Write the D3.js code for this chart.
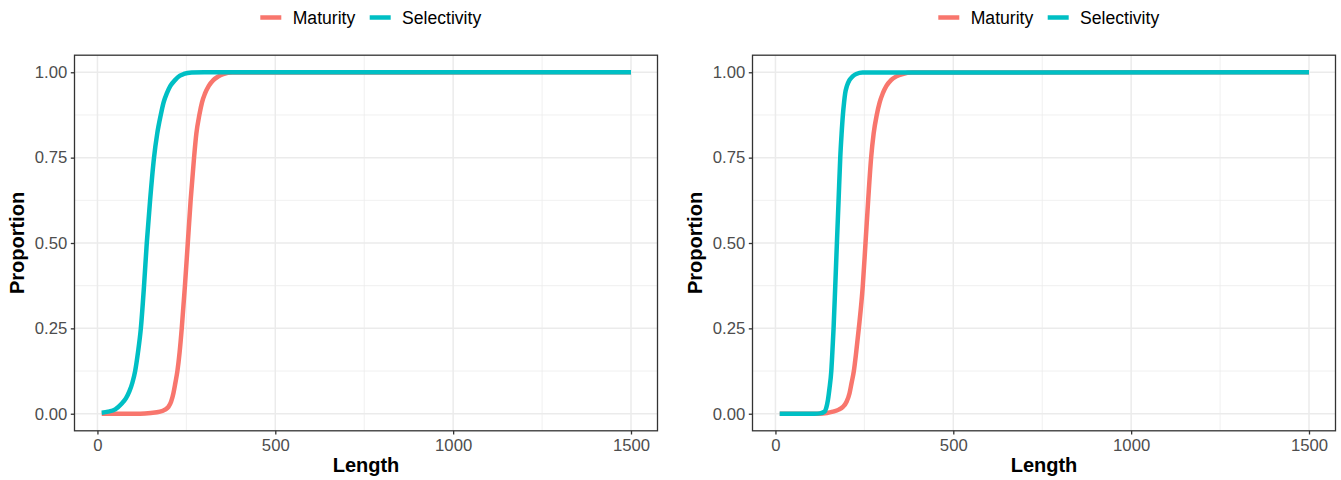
<!DOCTYPE html>
<html>
<head>
<meta charset="utf-8">
<script src="https://cdn.jsdelivr.net/npm/d3@7"></script>
<style>
  html, body { margin: 0; padding: 0; background: #fff; }
  svg { display: block; }
  text { font-family: "Liberation Sans", Arial, Helvetica, sans-serif; }
</style>
</head>
<body>
<svg id="chart" width="1341" height="480"></svg>
<script>
// ---------- data ----------
const seriesNames = ["Maturity", "Selectivity"];
const seriesColors = ["#F8766D", "#00BFC4"];

const xTicks = [0, 500, 1000, 1500];
const xMinor = [250, 750, 1250];
const yTicks = [0, 0.25, 0.5, 0.75, 1];
const yMinor = [0.125, 0.375, 0.625, 0.875];
const yTickLabels = ["0.00", "0.25", "0.50", "0.75", "1.00"];

// Left panel
const leftMaturityLength = [12, 120, 150, 176, 190, 199.6, 207, 213.6, 219, 224.8, 231, 237, 246, 254, 262, 271.6, 278, 286.5, 294, 302.5, 313, 325.8, 340, 354, 380, 1500];
const leftMaturityProp   = [0, 0, 0.002, 0.006, 0.012, 0.02, 0.035, 0.06, 0.09, 0.125, 0.18, 0.25, 0.375, 0.5, 0.625, 0.75, 0.82, 0.875, 0.912, 0.938, 0.96, 0.977, 0.988, 0.995, 0.999, 1];
const leftSelectivityLength = [12, 30, 50, 68.5, 80, 90, 98, 106, 114, 122, 131, 138.7, 148, 159, 168, 178, 186, 195, 205, 218, 232, 243, 265, 300, 1500];
const leftSelectivityProp   = [0.003, 0.006, 0.013, 0.03, 0.045, 0.066, 0.09, 0.125, 0.18, 0.25, 0.375, 0.5, 0.625, 0.75, 0.82, 0.875, 0.912, 0.938, 0.96, 0.977, 0.99, 0.995, 0.999, 1, 1];

// Right panel
const rightMaturityLength = [12, 120, 145, 161.5, 178, 189.6, 200, 208.3, 214, 220.4, 227, 234.4, 245.6, 253.2, 260.7, 269, 276, 284.8, 293, 301.7, 312, 325, 340, 357.7, 385, 1500];
const rightMaturityProp   = [0, 0, 0.002, 0.006, 0.012, 0.02, 0.035, 0.06, 0.09, 0.125, 0.18, 0.25, 0.375, 0.5, 0.625, 0.75, 0.82, 0.875, 0.912, 0.938, 0.96, 0.977, 0.988, 0.995, 0.999, 1];
const rightSelectivityLength = [12, 110, 125, 138, 143, 147.5, 152, 157, 160, 163.4, 168.2, 172.8, 177.5, 182.2, 186, 189.6, 193, 196, 201, 208, 217, 227, 245, 1500];
const rightSelectivityProp   = [0, 0, 0.001, 0.006, 0.018, 0.04, 0.075, 0.125, 0.18, 0.25, 0.375, 0.5, 0.625, 0.75, 0.82, 0.875, 0.912, 0.938, 0.96, 0.977, 0.988, 0.995, 0.999, 1];

// ---------- drawing ----------
const svg = d3.select("#chart");

const panels = [
  { left: 74.5, right: 657.5,
    series: [ [leftMaturityLength, leftMaturityProp], [leftSelectivityLength, leftSelectivityProp] ] },
  { left: 752.5, right: 1335.5,
    series: [ [rightMaturityLength, rightMaturityProp], [rightSelectivityLength, rightSelectivityProp] ] }
];

const panelTop = 55.2, panelBottom = 430.8;
const xDomain = [-64.5, 1574.5];
const yDomain = [-0.05, 1.05];
const gridColor = "#EBEBEB";
const tickTextColor = "#4D4D4D";
const borderColor = "#333333";

panels.forEach((p, pi) => {
  const x = d3.scaleLinear().domain(xDomain).range([p.left, p.right]);
  const y = d3.scaleLinear().domain(yDomain).range([panelBottom, panelTop]);
  const g = svg.append("g");

  // minor grid
  g.selectAll(".gxm").data(xMinor).enter().append("line")
    .attr("x1", d => x(d)).attr("x2", d => x(d)).attr("y1", panelTop).attr("y2", panelBottom)
    .attr("stroke", gridColor).attr("stroke-width", 0.75);
  g.selectAll(".gym").data(yMinor).enter().append("line")
    .attr("x1", p.left).attr("x2", p.right).attr("y1", d => y(d)).attr("y2", d => y(d))
    .attr("stroke", gridColor).attr("stroke-width", 0.75);
  // major grid
  g.selectAll(".gx").data(xTicks).enter().append("line")
    .attr("x1", d => x(d)).attr("x2", d => x(d)).attr("y1", panelTop).attr("y2", panelBottom)
    .attr("stroke", gridColor).attr("stroke-width", 1.5);
  g.selectAll(".gy").data(yTicks).enter().append("line")
    .attr("x1", p.left).attr("x2", p.right).attr("y1", d => y(d)).attr("y2", d => y(d))
    .attr("stroke", gridColor).attr("stroke-width", 1.5);

  // lines
  const line = d3.line().curve(d3.curveMonotoneX);
  p.series.forEach((s, si) => {
    const pts = s[0].map((L, i) => [x(L), y(s[1][i])]);
    g.append("path")
      .attr("d", line(pts))
      .attr("fill", "none")
      .attr("stroke", seriesColors[si])
      .attr("stroke-width", 4.5)
      .attr("stroke-linecap", "butt")
      .attr("stroke-linejoin", "round");
  });

  // panel border
  g.append("rect")
    .attr("x", p.left).attr("y", panelTop)
    .attr("width", p.right - p.left).attr("height", panelBottom - panelTop)
    .attr("fill", "none").attr("stroke", borderColor).attr("stroke-width", 1.3);

  // axes
  const xAxis = d3.axisBottom(x).tickValues(xTicks).tickSize(3.7).tickPadding(5).tickFormat(d3.format("d"));
  const xa = g.append("g").attr("transform", `translate(0,${panelBottom})`).call(xAxis);
  xa.select(".domain").remove();
  xa.selectAll(".tick line").attr("stroke", borderColor).attr("stroke-width", 1.3);
  xa.selectAll(".tick text").attr("fill", tickTextColor).attr("font-size", "16.7px")
    .attr("font-family", "'Liberation Sans', Arial, sans-serif");

  const yAxis = d3.axisLeft(y).tickValues(yTicks).tickSize(3.7).tickPadding(3.5)
    .tickFormat((d, i) => yTickLabels[i]);
  const ya = g.append("g").attr("transform", `translate(${p.left},0)`).call(yAxis);
  ya.select(".domain").remove();
  ya.selectAll(".tick line").attr("stroke", borderColor).attr("stroke-width", 1.3);
  ya.selectAll(".tick text").attr("fill", tickTextColor).attr("font-size", "16.7px")
    .attr("font-family", "'Liberation Sans', Arial, sans-serif");

  // axis titles
  g.append("text")
    .attr("x", (p.left + p.right) / 2).attr("y", 472)
    .attr("text-anchor", "middle").attr("font-size", "20px").attr("font-weight", "bold")
    .attr("fill", "#000").text("Length");
  g.append("text")
    .attr("transform", `translate(${p.left - 50.3},${(panelTop + panelBottom) / 2}) rotate(-90)`)
    .attr("text-anchor", "middle").attr("font-size", "20px").attr("font-weight", "bold")
    .attr("fill", "#000").text("Proportion");

  // legend
  const off = p.left - 74.5;
  const legendItems = [
    { key: 260.3, text: 292.7 },
    { key: 369.7, text: 402 }
  ];
  const lg = g.append("g");
  seriesNames.forEach((name, i) => {
    lg.append("line")
      .attr("x1", legendItems[i].key + off).attr("x2", legendItems[i].key + off + 21)
      .attr("y1", 17.5).attr("y2", 17.5)
      .attr("stroke", seriesColors[i]).attr("stroke-width", 4.5);
    lg.append("text")
      .attr("x", legendItems[i].text + off).attr("y", 23.8)
      .attr("font-size", "17.6px").attr("fill", "#000").text(name);
  });
});
</script>
</body>
</html>
